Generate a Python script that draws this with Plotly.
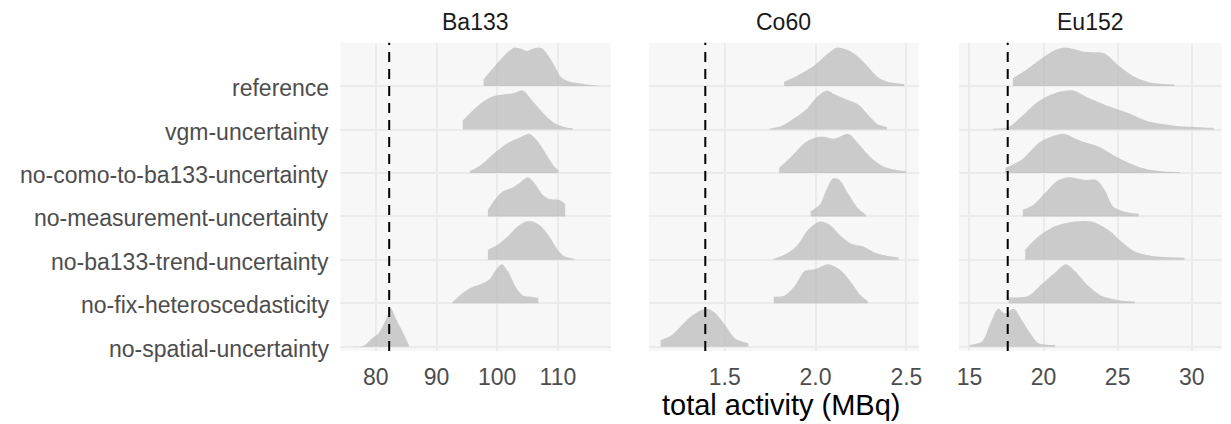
import plotly.graph_objects as go

# ---------------- data ----------------
categories = [
    "reference",
    "vgm-uncertainty",
    "no-como-to-ba133-uncertainty",
    "no-measurement-uncertainty",
    "no-ba133-trend-uncertainty",
    "no-fix-heteroscedasticity",
    "no-spatial-uncertainty",
]
isotopes = ["Ba133", "Co60", "Eu152"]
true_activity = [82.2, 1.393, 17.58]

x_tickvals = [[80, 90, 100, 110], [1.5, 2.0, 2.5], [15, 20, 25, 30]]
x_ticktext = [["80", "90", "100", "110"], ["1.5", "2.0", "2.5"], ["15", "20", "25", "30"]]
x_title = "total activity (MBq)"

# ridge outlines: activity values and scaled density heights, one list per category
ba133_x = [
    [97.76, 99.56, 101.48, 102.84, 103.93, 104.92, 105.85, 106.67, 107.49, 108.58, 109.40, 110.49, 111.58, 113.77, 116.67],
    [94.32, 96.83, 99.02, 101.20, 102.84, 104.21, 106.12, 107.76, 109.40, 111.04, 112.46],
    [95.46, 97.38, 99.56, 101.75, 103.66, 105.30, 106.67, 108.31, 109.40, 110.11],
    [98.47, 99.56, 100.93, 102.30, 103.66, 105.03, 106.12, 107.49, 108.58, 110.22, 111.04, 111.20],
    [98.47, 100.11, 101.75, 103.39, 104.75, 105.85, 107.21, 108.58, 109.95, 111.04, 112.79],
    [92.62, 94.10, 95.74, 97.38, 98.74, 99.84, 100.77, 101.75, 103.11, 104.21, 105.57, 106.78],
    [76.34, 77.98, 79.34, 80.44, 81.53, 82.51, 83.17, 83.99, 84.81, 85.46],
]
ba133_h = [
    [0.16, 0.45, 0.75, 0.89, 0.86, 0.81, 0.86, 0.89, 0.86, 0.67, 0.48, 0.21, 0.12, 0.06, 0.01],
    [0.21, 0.55, 0.75, 0.81, 0.84, 0.90, 0.61, 0.35, 0.15, 0.06, 0.03],
    [0.04, 0.19, 0.46, 0.69, 0.81, 0.90, 0.73, 0.38, 0.15, 0.06],
    [0.15, 0.38, 0.58, 0.65, 0.77, 0.90, 0.77, 0.50, 0.40, 0.38, 0.31, 0.28],
    [0.23, 0.35, 0.54, 0.77, 0.88, 0.88, 0.77, 0.54, 0.23, 0.08, 0.02],
    [0.02, 0.21, 0.36, 0.44, 0.55, 0.78, 0.90, 0.74, 0.36, 0.18, 0.15, 0.12],
    [0.01, 0.02, 0.19, 0.31, 0.58, 0.88, 0.69, 0.46, 0.23, 0.03],
]

co60_x = [
    [1.827, 1.904, 1.995, 2.068, 2.119, 2.178, 2.233, 2.288, 2.342, 2.397, 2.488],
    [1.745, 1.812, 1.886, 1.949, 2.013, 2.063, 2.105, 2.160, 2.233, 2.287, 2.342, 2.393],
    [1.800, 1.867, 1.940, 2.004, 2.050, 2.105, 2.181, 2.233, 2.306, 2.379, 2.499],
    [1.973, 2.023, 2.059, 2.096, 2.132, 2.178, 2.233, 2.278],
    [1.767, 1.831, 1.895, 1.959, 2.023, 2.077, 2.141, 2.196, 2.260, 2.324, 2.397, 2.457],
    [1.770, 1.831, 1.886, 1.940, 1.995, 2.068, 2.132, 2.196, 2.251, 2.287],
    [1.147, 1.209, 1.301, 1.392, 1.438, 1.502, 1.557, 1.630],
]
co60_h = [
    [0.10, 0.25, 0.48, 0.75, 0.89, 0.83, 0.68, 0.45, 0.21, 0.10, 0.05],
    [0.02, 0.08, 0.27, 0.46, 0.77, 0.90, 0.81, 0.71, 0.58, 0.35, 0.12, 0.06],
    [0.12, 0.38, 0.69, 0.82, 0.83, 0.79, 0.90, 0.69, 0.35, 0.14, 0.04],
    [0.12, 0.27, 0.61, 0.88, 0.84, 0.54, 0.19, 0.04],
    [0.02, 0.12, 0.31, 0.69, 0.88, 0.81, 0.54, 0.37, 0.31, 0.17, 0.09, 0.06],
    [0.15, 0.18, 0.40, 0.74, 0.78, 0.90, 0.78, 0.48, 0.17, 0.05],
    [0.15, 0.27, 0.65, 0.87, 0.81, 0.50, 0.19, 0.08],
]

eu152_x = [
    [17.93, 18.98, 19.88, 20.78, 21.45, 22.79, 24.13, 25.03, 26.15, 27.27, 28.83],
    [16.57, 17.64, 18.54, 19.66, 20.78, 22.01, 23.01, 24.36, 25.70, 27.04, 28.83, 31.48],
    [17.42, 18.54, 19.66, 20.55, 21.38, 22.57, 23.69, 25.03, 26.60, 27.94, 29.19],
    [18.60, 19.32, 20.10, 20.89, 21.67, 22.79, 23.57, 24.13, 24.69, 25.36, 26.42],
    [18.76, 19.66, 20.78, 22.12, 23.24, 24.36, 25.25, 26.15, 27.49, 29.51],
    [17.64, 18.98, 19.88, 20.78, 21.49, 22.12, 23.01, 23.91, 25.03, 26.15],
    [15.00, 15.85, 16.41, 16.93, 17.40, 17.98, 18.54, 19.10, 19.66, 20.78],
]
eu152_h = [
    [0.18, 0.41, 0.64, 0.83, 0.89, 0.79, 0.75, 0.48, 0.21, 0.08, 0.04],
    [0.02, 0.06, 0.31, 0.65, 0.84, 0.90, 0.73, 0.54, 0.38, 0.19, 0.09, 0.04],
    [0.12, 0.31, 0.69, 0.84, 0.90, 0.73, 0.61, 0.35, 0.12, 0.04, 0.02],
    [0.15, 0.27, 0.54, 0.81, 0.90, 0.84, 0.84, 0.61, 0.23, 0.12, 0.06],
    [0.23, 0.54, 0.77, 0.88, 0.88, 0.69, 0.42, 0.19, 0.08, 0.05],
    [0.13, 0.17, 0.44, 0.71, 0.90, 0.74, 0.40, 0.17, 0.07, 0.04],
    [0.04, 0.12, 0.54, 0.87, 0.76, 0.87, 0.61, 0.31, 0.08, 0.04],
]

# ---------------- styling / layout ----------------
FONT = "Liberation Sans, Arial, sans-serif"
FILL = "rgba(180,180,180,0.65)"
GRID = "#EBEBEB"
PANEL_BG = "#F7F7F7"
AXIS_TEXT = "#4D4D4D"
x_domains = [[0.2762, 0.4969], [0.5280, 0.7482], [0.7812, 0.9959]]
x_ranges = [[74.15, 118.7], [1.082, 2.567], [14.29, 32.04]]
y_domain = [0.1722, 0.8993]
y_range = [0.9, 8.0]

all_x = [ba133_x, co60_x, eu152_x]
all_h = [ba133_h, co60_h, eu152_h]
n = len(categories)
positions = [n - i for i in range(n)]

fig = go.Figure()
for p in range(3):
    xa = "x" if p == 0 else f"x{p + 1}"
    ya = "y" if p == 0 else f"y{p + 1}"
    for i in range(n):
        xs = all_x[p][i]
        hs = all_h[p][i]
        base = positions[i]
        fig.add_trace(go.Scatter(
            x=[xs[0], xs[-1]], y=[base, base], mode="lines",
            line=dict(width=0, color=FILL), xaxis=xa, yaxis=ya,
            hoverinfo="skip", showlegend=False))
        fig.add_trace(go.Scatter(
            x=xs, y=[base + h for h in hs], mode="lines",
            line=dict(width=0, color=FILL, shape="spline", smoothing=0.8),
            fill="tonexty", fillcolor=FILL, xaxis=xa, yaxis=ya,
            hoverinfo="skip", showlegend=False))

layout = dict(
    width=1231, height=424,
    margin=dict(l=0, r=0, t=0, b=0),
    paper_bgcolor="white", plot_bgcolor=PANEL_BG,
    font=dict(family=FONT, color=AXIS_TEXT, size=23),
    showlegend=False,
)
for p in range(3):
    key = "xaxis" if p == 0 else f"xaxis{p + 1}"
    layout[key] = dict(
        domain=x_domains[p], range=x_ranges[p], anchor="y" if p == 0 else f"y{p + 1}",
        tickvals=x_tickvals[p], ticktext=x_ticktext[p],
        showgrid=True, gridcolor=GRID, gridwidth=2, zeroline=False,
        ticks="", showline=False, tickfont=dict(size=23, color=AXIS_TEXT, family=FONT),
        ticklabelstandoff=10,
    )
    ykey = "yaxis" if p == 0 else f"yaxis{p + 1}"
    layout[ykey] = dict(
        domain=y_domain, range=y_range, anchor="x" if p == 0 else f"x{p + 1}",
        tickvals=positions, showticklabels=False,
        showgrid=True, gridcolor=GRID, gridwidth=2, zeroline=False,
        ticks="", showline=False,
    )
fig.update_layout(**layout)

# category labels on the left of the first panel
for i, cat in enumerate(categories):
    fig.add_annotation(text=cat, xref="paper", yref="y", x=(x_domains[0][0] * 1231 - 9) / 1231,
                       y=positions[i], xanchor="right", yanchor="middle", yshift=-2,
                       showarrow=False, font=dict(size=23, color=AXIS_TEXT, family=FONT))

for p in range(3):
    xa = "x" if p == 0 else f"x{p + 1}"
    ya = "y" if p == 0 else f"y{p + 1}"
    fig.add_shape(type="line", xref=xa, yref=f"{ya} domain",
                  x0=true_activity[p], x1=true_activity[p], y0=0, y1=1,
                  line=dict(color="black", width=2, dash="10px,7px"), layer="above")
    fig.add_annotation(text=isotopes[p], xref="paper", yref="paper",
                       x=sum(x_domains[p]) / 2, y=1 - 22 / 424, xanchor="center", yanchor="middle",
                       showarrow=False, font=dict(size=23, color="#1A1A1A", family=FONT))

fig.add_annotation(text=x_title, xref="paper", yref="paper",
                   x=(x_domains[0][0] + x_domains[2][1]) / 2, y=0, yshift=1,
                   xanchor="center", yanchor="bottom", showarrow=False,
                   font=dict(size=29, color="black", family=FONT))

fig.write_html("out.html")
